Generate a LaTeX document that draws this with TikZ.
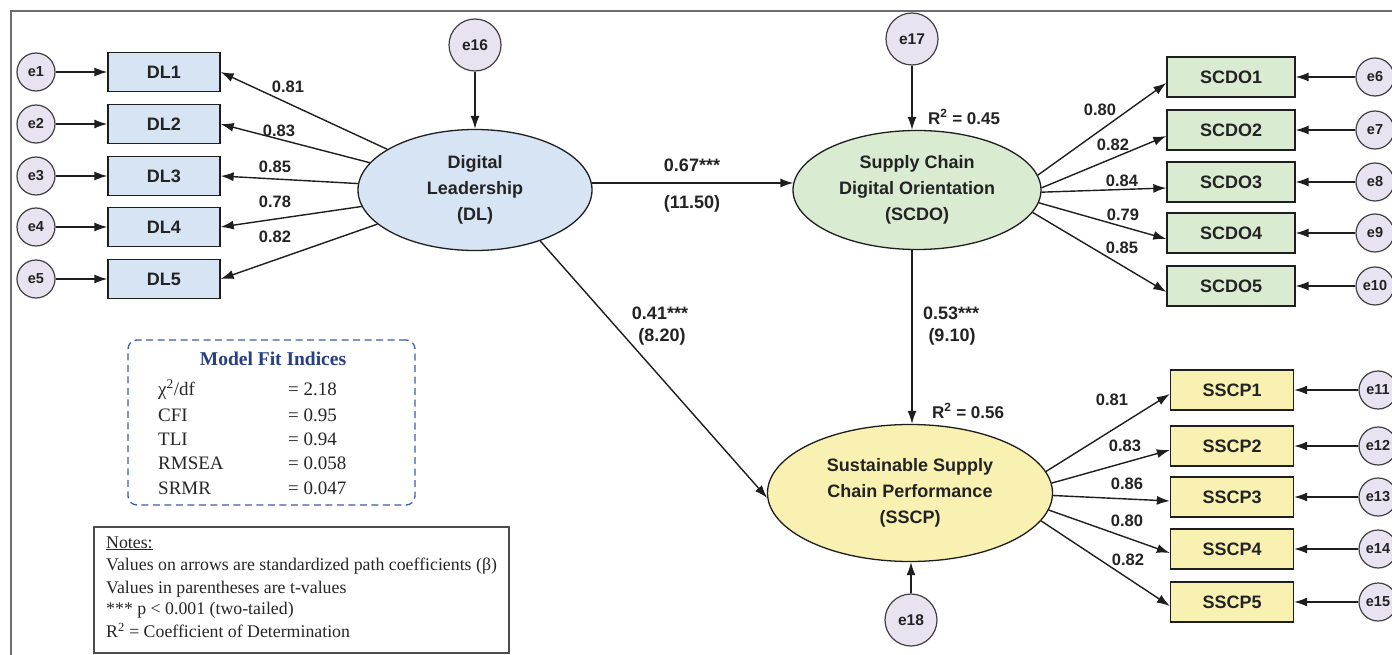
\documentclass[tikz,border=0pt]{standalone}
\usepackage{fontspec}
\setmainfont{Liberation Serif}
\setsansfont{Liberation Sans}
\usetikzlibrary{arrows.meta,shapes.geometric,calc}
\definecolor{dlfill}{RGB}{214,228,243}
\definecolor{scfill}{RGB}{217,235,209}
\definecolor{ssfill}{RGB}{249,241,178}
\definecolor{errfill}{RGB}{233,227,241}
\definecolor{linec}{RGB}{30,30,30}
\definecolor{txtc}{RGB}{35,35,35}
\definecolor{fitblue}{RGB}{62,92,165}
\definecolor{titleblue}{RGB}{38,62,135}
\definecolor{framec}{RGB}{110,110,110}
\tikzset{
  ind/.style={draw=linec, line width=1.3pt, minimum width=112pt, minimum height=39pt, inner sep=0pt,
    font=\sffamily\bfseries\fontsize{18}{20}\selectfont, text=txtc},
  errc/.style={circle, draw=linec!85, line width=1.2pt, fill=errfill, minimum size=38pt, inner sep=0pt,
    font=\sffamily\bfseries\fontsize{14.5}{16}\selectfont, text=txtc},
  bigerr/.style={errc, minimum size=52pt, font=\sffamily\bfseries\fontsize{15.5}{17}\selectfont},
  lat/.style={ellipse, draw=linec, line width=1.3pt, inner sep=0pt, align=center, text=txtc,
    font=\sffamily\bfseries\fontsize{18}{26}\selectfont},
  arr/.style={draw=linec, line width=1.4pt, -{Latex[length=13pt,width=9pt]}},
  ld/.style={font=\sffamily\bfseries\fontsize{16.5}{18}\selectfont, text=txtc, inner sep=0pt},
  pl/.style={font=\sffamily\bfseries\fontsize{18}{20}\selectfont, text=txtc, inner sep=0pt},
  rsq/.style={font=\sffamily\bfseries\fontsize{17}{19}\selectfont, text=txtc, inner sep=0pt, anchor=west},
  fitrow/.style={font=\fontsize{19}{22}\selectfont, text=black!85, inner sep=0pt, anchor=base west},
  noterow/.style={font=\fontsize{17.8}{20}\selectfont, text=black!85, inner sep=0pt, anchor=base west}
}
\begin{document}
\begin{tikzpicture}[x=1pt,y=-1pt]
\useasboundingbox (0,0) rectangle (1392,655);
\clip (0,0) rectangle (1392,655);
\fill[white] (0,0) rectangle (1392,655);
% frame
\coordinate (fb) at (11,660);
\coordinate (ftl) at (11,11);
\coordinate (fr) at (1400,11);
\draw[framec, line width=1.6pt] (fb) -- (ftl) -- (fr);

% latent variables
\node[lat, fill=dlfill, minimum width=234pt, minimum height=121pt] (DL) at (475,190) {Digital\\Leadership\\(DL)};
\node[lat, fill=scfill, minimum width=248pt, minimum height=119pt] (SCDO) at (917,190) {Supply Chain\\Digital Orientation\\(SCDO)};
\node[lat, fill=ssfill, minimum width=285pt, minimum height=137pt] (SSCP) at (910,493) {Sustainable Supply\\Chain Performance\\(SSCP)};

% DL indicators
\foreach \i/\y in {1/72,2/124,3/176,4/227,5/279}{
  \node[ind, fill=dlfill] (DL\i) at (164,\y) {DL\i};
  \node[errc] (e\i) at (36,\y) {e\i};
  \draw[arr] (e\i) -- (DL\i);
  \draw[arr] (DL) -- (DL\i.east);
}
\node[ld] (l1) at (288,87) {0.81};
\node[ld] (l2) at (279,131) {0.83};
\node[ld] (l3) at (275,167) {0.85};
\node[ld] (l4) at (275,202) {0.78};
\node[ld] (l5) at (275,237) {0.82};

% SCDO indicators
\foreach \i/\y/\e/\a in {1/77/6/7,2/130/7/1.4,3/182/8/-1.4,4/233/9/-6.7,5/286/10/-11.4}{
  \node[ind, fill=scfill, minimum width=128pt, minimum height=40pt] (SCDO\i) at (1231,\y) {SCDO\i};
  \node[errc] (e\e) at (1375,\y) {e\e};
  \draw[arr] (e\e) -- (SCDO\i);
  \draw[arr] (SCDO.\a) -- ($(SCDO\i.west)+(0,6)$);
}
\node[ld] (l6) at (1100,110) {0.80};
\node[ld] (l7) at (1113,145) {0.82};
\node[ld] (l8) at (1122,181) {0.84};
\node[ld] (l9) at (1123,215) {0.79};
\node[ld] (l10) at (1122,248) {0.85};

% SSCP indicators
\foreach \i/\y/\e/\a in {1/390/11/9.7,2/446/12/4.1,3/497/13/-1.6,4/549/14/-7,5/602/15/-12.7}{
  \node[ind, fill=ssfill, minimum width=123pt, minimum height=40pt] (SSCP\i) at (1232,\y) {SSCP\i};
  \node[errc] (e\e) at (1378,\y) {e\e};
  \draw[arr] (e\e) -- (SSCP\i);
  \draw[arr] (SSCP.\a) -- ($(SSCP\i.west)+(0,4)$);
}
\node[ld] (l11) at (1112,400) {0.81};
\node[ld] (l12) at (1125,446) {0.83};
\node[ld] (l13) at (1127,484) {0.86};
\node[ld] (l14) at (1127,521) {0.80};
\node[ld] (l15) at (1128,560) {0.82};

% disturbances
\node[bigerr] (e16) at (475,45) {e16};
\node[bigerr] (e17) at (912,39) {e17};
\node[bigerr] (e18) at (911,620) {e18};
\draw[arr] (e16) -- (DL);
\draw[arr] (e17) -- (e17 |- SCDO.north);
\draw[arr] (e18) -- (e18 |- SSCP.south);

% structural paths
\path (DL.center) ++(116.6,-7) coordinate (dlr);
\path (SCDO.center) ++(-123.6,-7) coordinate (scl);
\draw[arr] (dlr) -- (scl);
\draw[arr] (DL.-38) -- (SSCP.182);
\draw[arr] (e17 |- SCDO.south) -- (e17 |- SSCP.north);

\node[pl] (p1) at (692,165) {0.67***};
\node[pl] (p1t) at (692,204) {(11.50)};
\node[pl] (p2) at (660,313) {0.41***};
\node[pl] (p2t) at (662,337) {(8.20)};
\node[pl, anchor=west] (p3) at (923,313) {0.53***};
\node[pl] (p3t) at (952,337) {(9.10)};
\node[rsq] (r1) at (928,117) {R\textsuperscript{2} = 0.45};
\node[rsq] (r2) at (932,411) {R\textsuperscript{2} = 0.56};

% model fit box
\node[draw=fitblue, line width=1.3pt, dash pattern=on 7pt off 4.5pt, rounded corners=9pt,
  minimum width=287pt, minimum height=165pt, inner sep=0pt] (fit) at (271.5,422.5) {};
\node[font=\bfseries\fontsize{19.5}{22}\selectfont, text=titleblue, inner sep=0pt, anchor=base] (fitt) at (273,365) {Model Fit Indices};
\node[fitrow] (f1a) at (158,395) {χ\textsuperscript{2}/df};
\node[fitrow] (f1b) at (288,395) {= 2.18};
\node[fitrow] (f2a) at (158,421) {CFI};
\node[fitrow] (f2b) at (288,421) {= 0.95};
\node[fitrow] (f3a) at (158,445) {TLI};
\node[fitrow] (f3b) at (288,445) {= 0.94};
\node[fitrow] (f4a) at (158,469) {RMSEA};
\node[fitrow] (f4b) at (288,469) {= 0.058};
\node[fitrow] (f5a) at (158,494) {SRMR};
\node[fitrow] (f5b) at (288,494) {= 0.047};

% notes box
\node[draw=black!70, line width=1.3pt, minimum width=415pt, minimum height=126pt, inner sep=0pt] (notes) at (301.5,590) {};
\node[noterow] (n0) at (106,548) {\underline{Notes:}};
\node[noterow] (n1) at (106,570.5) {Values on arrows are standardized path coefficients (β)};
\node[noterow] (n2) at (106,593) {Values in parentheses are t-values};
\node[noterow] (n3) at (106,614.5) {*** p < 0.001 (two-tailed)};
\node[noterow] (n4) at (106,637.5) {R\textsuperscript{2} = Coefficient of Determination};
\end{tikzpicture}
\end{document}
